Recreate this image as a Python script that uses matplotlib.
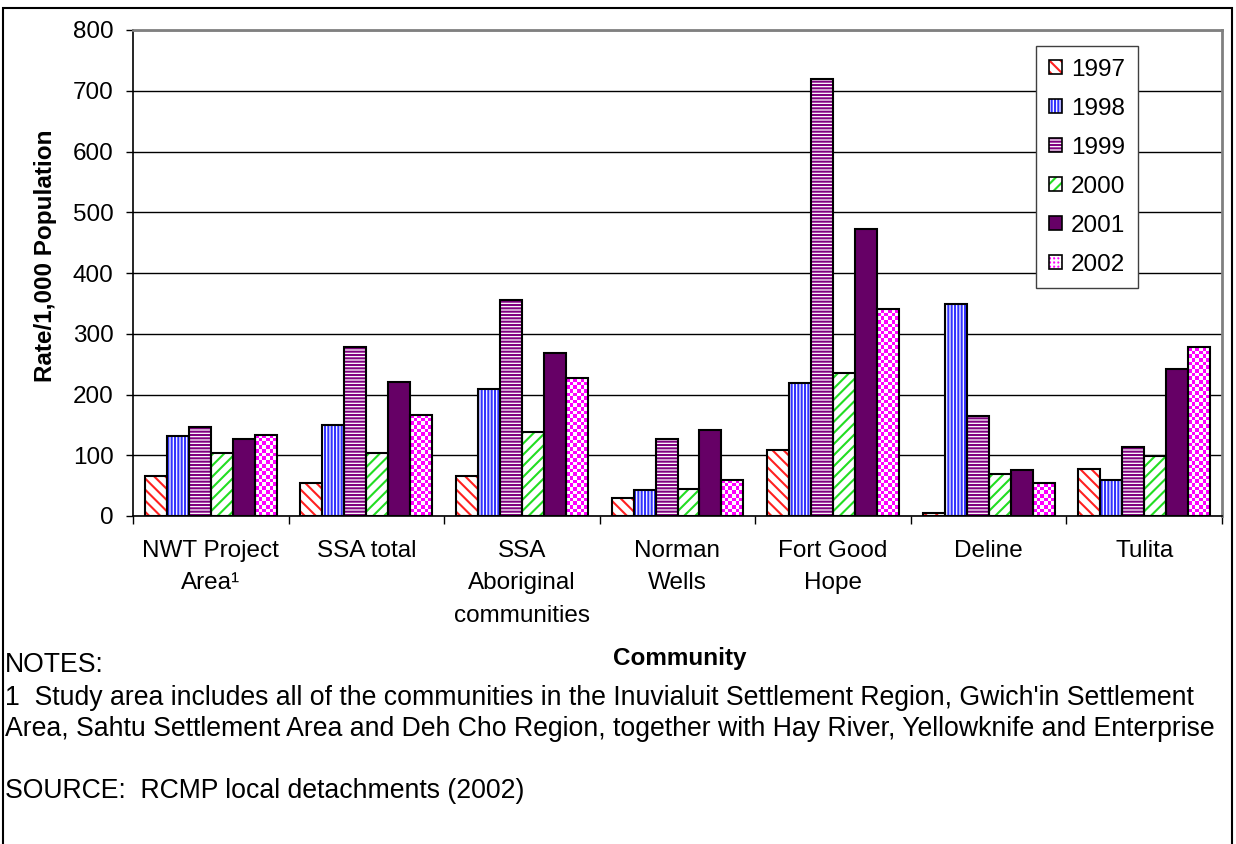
import numpy as np
import matplotlib
matplotlib.use("Agg")
import matplotlib.pyplot as plt
from matplotlib.patches import Patch, Rectangle
from matplotlib.colors import ListedColormap
from matplotlib.legend_handler import HandlerTuple

plt.rcParams['font.family'] = ['Liberation Sans', 'DejaVu Sans']
plt.rcParams['hatch.linewidth'] = 1.5

communities = ["NWT Project\nArea\u00b9", "SSA total", "SSA\nAboriginal\ncommunities",
               "Norman\nWells", "Fort Good\nHope", "Deline", "Tulita"]
years = ["1997", "1998", "1999", "2000", "2001", "2002"]

rate_1997 = [66, 54, 66, 30, 109, 5, 78]
rate_1998 = [132, 149, 209, 42, 219, 349, 60]
rate_1999 = [146, 279, 355, 126, 720, 165, 114]
rate_2000 = [104, 104, 138, 45, 236, 69, 99]
rate_2001 = [126, 221, 268, 142, 472, 76, 242]
rate_2002 = [134, 167, 227, 60, 340, 54, 278]

series = [rate_1997, rate_1998, rate_1999, rate_2000, rate_2001, rate_2002]

# fill, hatch colour, hatch pattern for each year (2002 gets a checkerboard below)
styles = [
    ("white", "#ff2020", "\\\\\\"),
    ("white", "#3333ff", "|||||"),
    ("white", "#800080", "-----"),
    ("white", "#22dd22", "///"),
    ("#660066", "#660066", ""),
    ("white", "#ff00ff", ""),
]

FS = 17.5

fig = plt.figure(figsize=(12.36, 8.44), dpi=100)
ax = fig.add_axes([133 / 1236, 1 - 516 / 844, 1089 / 1236, 486 / 844])

x = np.arange(len(communities))
w = 0.1413
handles = []
for j, (vals, (face, hcol, hatch)) in enumerate(zip(series, styles)):
    pos = x + (j - 2.5) * w
    ax.bar(pos, vals, w, color=face, edgecolor=hcol, hatch=hatch, linewidth=0, zorder=3)
    outline = ax.bar(pos, vals, w, facecolor="none", edgecolor="black", linewidth=1.5, zorder=5)
    if j == 5:
        # checkerboard fill clipped to each bar
        cmap = ListedColormap(["white", "#ff00ff"])
        for rect, v in zip(outline, vals):
            x0 = rect.get_x()
            ncol, nrow = 6, max(int(round(v / 6.0)), 1)
            board = np.indices((nrow, ncol)).sum(axis=0) % 2
            im = ax.imshow(board, extent=[x0, x0 + w, 0, v], cmap=cmap,
                           interpolation="nearest", aspect="auto", origin="lower", zorder=4)
            im.set_clip_path(rect)
        h = (Patch(facecolor="#ff00ff", edgecolor="white", hatch="++++", linewidth=0),
             Patch(facecolor="none", edgecolor="black", linewidth=1.2))
    else:
        h = (Patch(facecolor=face, edgecolor=hcol, hatch=hatch, linewidth=0),
             Patch(facecolor="none", edgecolor="black", linewidth=1.2))
    handles.append(h)

ax.set_xlim(-0.5, len(communities) - 0.5)
ax.set_ylim(0, 800)
ax.set_yticks(range(0, 801, 100))
ax.yaxis.grid(True, color="black", linewidth=1, zorder=0)
ax.set_axisbelow(True)

ax.set_xticks(x)
ax.set_xticklabels(communities, fontsize=FS, linespacing=1.62, va="top")
ax.tick_params(axis="x", which="major", length=0, pad=17)
ax.set_xticks(np.arange(-0.5, len(communities), 1.0), minor=True)
ax.tick_params(axis="x", which="minor", length=6, width=1, direction="out")
ax.tick_params(axis="y", labelsize=FS, length=5, width=1, pad=9)

for side in ["top", "right"]:
    ax.spines[side].set_color("#808080")
    ax.spines[side].set_linewidth(2)
for side in ["left", "bottom"]:
    ax.spines[side].set_linewidth(1.2)

ax.set_ylabel("Rate/1,000 Population", fontsize=FS, fontweight="bold")
ax.yaxis.set_label_coords(-0.0698, 0.535)

leg = fig.legend(handles, years, handler_map={tuple: HandlerTuple(ndivide=1)},
                 loc="upper right", bbox_to_anchor=(1138 / 1236, 1 - 46 / 844),
                 fontsize=FS, fancybox=False, framealpha=1, edgecolor="#404040",
                 handlelength=0.55, handleheight=0.55, handletextpad=0.35,
                 labelspacing=0.7, borderpad=0.52, borderaxespad=0)
leg.get_frame().set_linewidth(1)

fig.text(680 / 1236, 1 - 658 / 844, "Community", fontsize=FS, fontweight="bold",
         ha="center", va="center")
NFS = 19.2
fig.text(5 / 1236, 1 - 665 / 844, "NOTES:", fontsize=NFS, va="center")
fig.text(5 / 1236, 1 - 698 / 844,
         "1  Study area includes all of the communities in the Inuvialuit Settlement Region, Gwich'in Settlement",
         fontsize=NFS, va="center")
fig.text(5 / 1236, 1 - 729 / 844,
         "Area, Sahtu Settlement Area and Deh Cho Region, together with Hay River, Yellowknife and Enterprise",
         fontsize=NFS, va="center")
fig.text(5 / 1236, 1 - 791 / 844, "SOURCE:  RCMP local detachments (2002)", fontsize=NFS, va="center")

# outer frame around the whole chart
fig.patches.append(Rectangle((3 / 1236, -0.05), 1229 / 1236, 1.05 - 8 / 844,
                             transform=fig.transFigure, fill=False,
                             edgecolor="black", linewidth=1.5))

fig.savefig("out.png", dpi=100)
